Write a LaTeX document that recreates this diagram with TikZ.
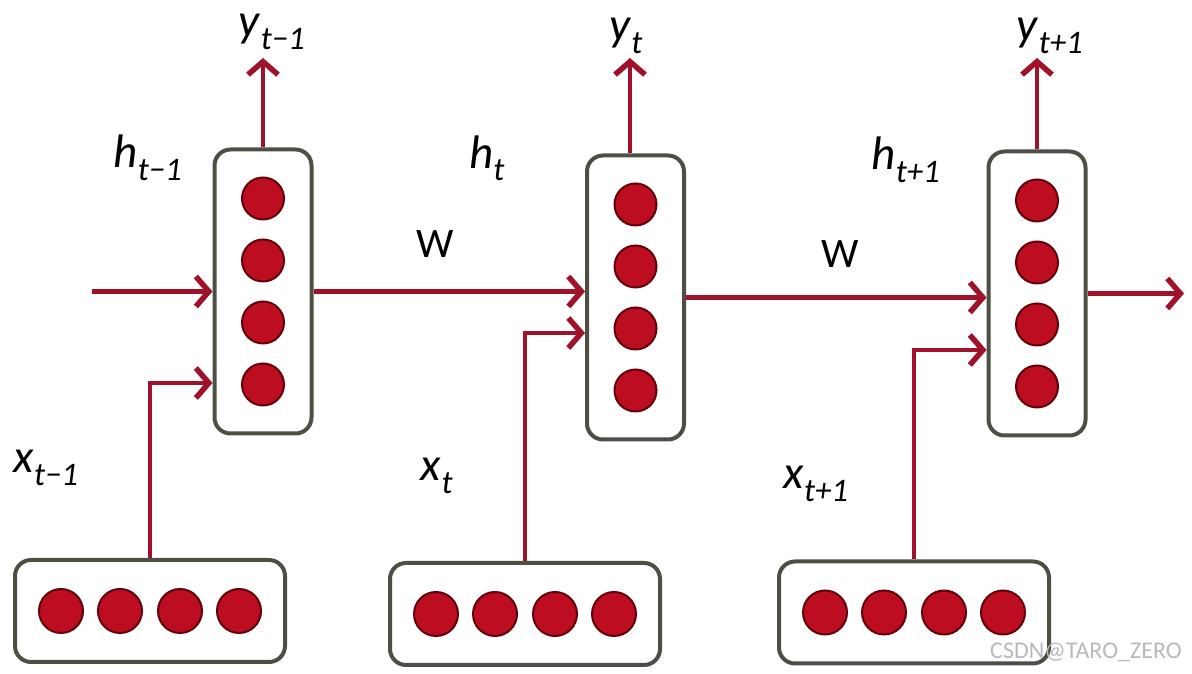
\documentclass[tikz,border=0pt]{standalone}
\usepackage{fontspec}
\setmainfont{Carlito}
\usetikzlibrary{positioning, calc, arrows.meta}
\definecolor{RojoFlecha}{RGB}{160,18,42}
\definecolor{RojoNeurona}{RGB}{188,14,32}
\definecolor{RojoOscuro}{RGB}{100,0,10}
\definecolor{GrisCaja}{RGB}{78,78,68}
\newcommand{\etiq}[2]{\textit{#1}\textsubscript{\textit{#2}}}

\begin{document}
\begin{tikzpicture}[
    x=1pt, y=1pt,
    >={Straight Barb[length=13pt, width=30pt, line width=5.5pt]},
    flecha/.style={->, draw=RojoFlecha, line width=4.5pt},
    caja_h/.style={draw=GrisCaja, line width=4pt, rounded corners=16pt, minimum width=97pt, minimum height=284pt, inner sep=0pt},
    caja_x/.style={draw=GrisCaja, line width=4pt, rounded corners=16pt, minimum width=270pt, minimum height=102pt, inner sep=0pt},
    neurona/.style={circle, fill=RojoNeurona, draw=RojoOscuro, line width=2pt, minimum size=42pt, inner sep=0pt},
    etiqueta/.style={font=\fontsize{47}{50}\selectfont, inner sep=0pt}
]
    \useasboundingbox (0,0) rectangle (1192,674);

    % 1. Capas ocultas con sus neuronas
    \foreach \n/\xc/\yc in {1/263/382.5, 2/635.5/376.5, 3/1037/380.5} {
        \node[caja_h] (h\n) at (\xc,\yc) {};
        \foreach \k/\dy in {1/93, 2/31, 3/-31, 4/-93}
            \node[neurona] (h\n c\k) at ([yshift=\dy pt]h\n.center) {};
    }

    % 2. Capas de entrada
    \foreach \n/\xc/\yc in {1/150/63, 2/525/60, 3/914/61.5} {
        \node[caja_x] (x\n) at (\xc,\yc) {};
        \foreach \k/\dx in {1/-89, 2/-30, 3/30, 4/89}
            \node[neurona, minimum size=44pt] (x\n c\k) at ([xshift=\dx pt]x\n.center) {};
    }

    % 3. Flechas de entrada (quiebre de 90 grados)
    \foreach \n/\dy in {1/-91.5, 2/-35.5, 3/-56.5}
        \draw[flecha] (x\n.north) |- ([yshift=\dy pt]h\n.west);

    % 4. Flechas recurrentes (W)
    \coordinate (entrada) at (92,382.5);
    \coordinate (salida) at (1184,380.5);
    \draw[flecha] (entrada) -- (h1.west);
    \draw[flecha] (h1.east) -- (h1.east -| h2.west);
    \draw[flecha] (h2.east) -- (h2.east -| h3.west);
    \draw[flecha] (h3.east) -- (salida);

    % 5. Flechas de salida
    \foreach \n/\xc in {1/263, 2/630, 3/1037} {
        \coordinate (sal\n) at (\xc,616);
        \draw[flecha] (h\n.north -| sal\n) -- (sal\n);
    }

    % 6. Etiquetas
    \node[etiqueta] (lab_y1) at (272,642) {\etiq{y}{t−1}};
    \node[etiqueta] (lab_y2) at (626,638) {\etiq{y}{t}};
    \node[etiqueta] (lab_y3) at (1050,638) {\etiq{y}{t+1}};
    \node[etiqueta] (lab_h1) at (148,516) {\etiq{h}{t−1}};
    \node[etiqueta] (lab_h2) at (487,516) {\etiq{h}{t}};
    \node[etiqueta] (lab_h3) at (906,514) {\etiq{h}{t+1}};
    \node[etiqueta, font=\fontsize{42}{44}\selectfont] (lab_w1) at (435,430) {W};
    \node[etiqueta, font=\fontsize{42}{44}\selectfont] (lab_w2) at (840,420) {W};
    \node[etiqueta] (lab_x1) at (46,206) {\etiq{x}{t−1}};
    \node[etiqueta] (lab_x2) at (437,198) {\etiq{x}{t}};
    \node[etiqueta] (lab_x3) at (816,190) {\etiq{x}{t+1}};

    % 7. Marca de agua
    \node[font=\fontsize{24}{26}\selectfont, text=gray!55] (marca) at (1086,22) {CSDN@TARO\_ZERO};
\end{tikzpicture}
\end{document}
